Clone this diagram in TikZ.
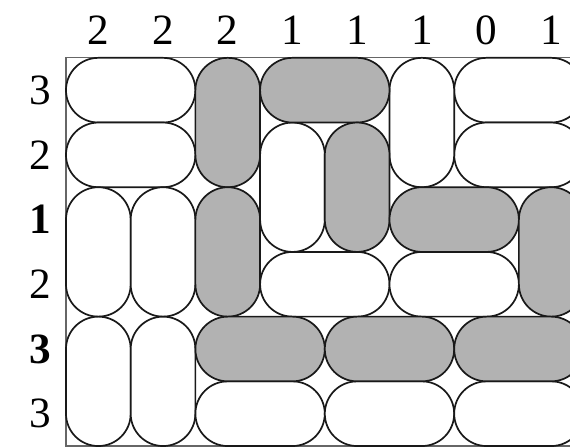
\documentclass[tikz,border=0pt]{standalone}
\usepackage{fontspec}
\setmainfont{Liberation Serif}
\usepackage{tikz}
\usetikzlibrary{positioning}

\begin{document}
\begin{tikzpicture}[
    dom/.style={draw=black!90,line width=0.75pt,rounded corners=5mm},
    wdom/.style={dom,fill=white},
    gdom/.style={dom,fill=gray!60},
    lbl/.style={font=\fontsize{19}{23}\selectfont,inner sep=0pt}
  ]
    \useasboundingbox (-1.02,-0.03) rectangle (7.79,6.894);
    \draw[black!60,line width=0.5pt] (0,0) rectangle (8,6);
    % white dominoes
    \foreach \xa/\ya/\xb/\yb in {0/5/2/6, 0/4/2/5, 6/5/8/6, 6/4/8/5, 5/4/6/6,
        3/3/4/5, 0/2/1/4, 1/2/2/4, 3/2/5/3, 5/2/7/3, 0/0/1/2, 1/0/2/2,
        2/0/4/1, 4/0/6/1, 6/0/8/1}
      \draw[wdom] (\xa,\ya) rectangle (\xb,\yb);
    % shaded dominoes
    \foreach \xa/\ya/\xb/\yb in {2/4/3/6, 3/5/5/6, 4/3/5/5, 2/2/3/4, 5/3/7/4,
        7/2/8/4, 2/1/4/2, 4/1/6/2, 6/1/8/2}
      \draw[gdom] (\xa,\ya) rectangle (\xb,\yb);
    % column and row numbers
    \foreach \v [count=\c] in {2,2,2,1,1,1,0,1}
      \node[lbl] (col\c) at (\c-0.5,6.42) {\v};
    \foreach \v [count=\r] in {3,2,\textbf{1},2,\textbf{3},3}
      \node[lbl] (row\r) at (-0.40,6.5-\r) {\v};
  \end{tikzpicture}
\end{document}
